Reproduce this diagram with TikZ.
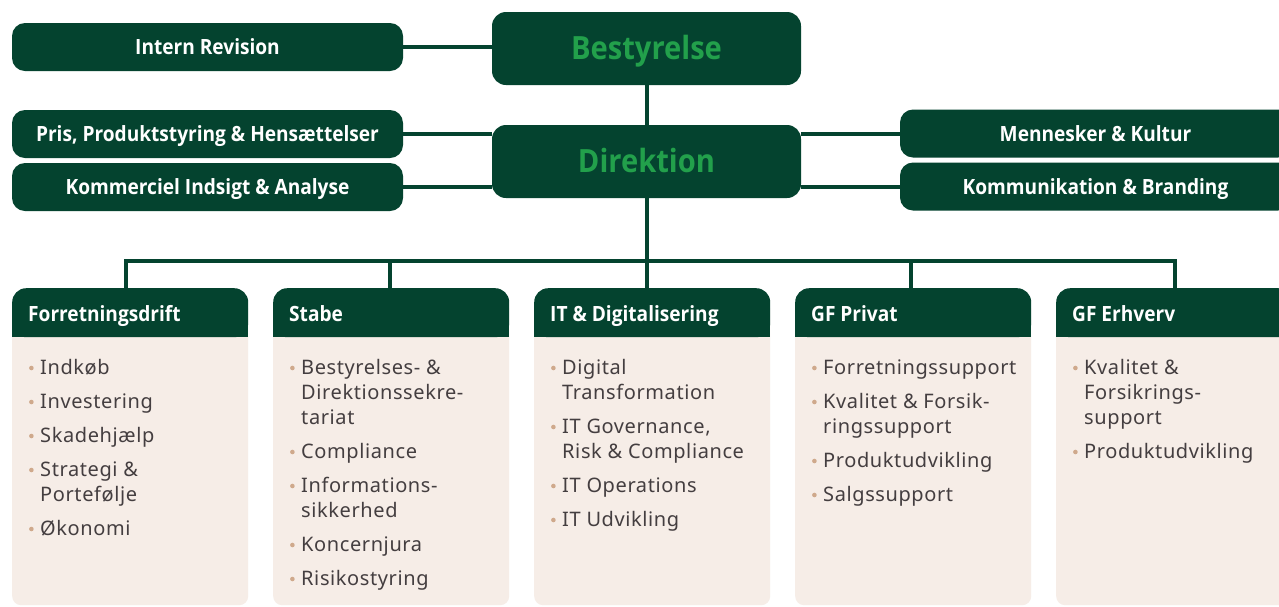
\documentclass[tikz,border=0pt]{standalone}
\usepackage{fontspec}
\setmainfont{Noto Sans}
\newfontfamily\hdfont[FakeStretch=0.91]{Open Sans}
\newfontfamily\listfont[LetterSpace=3]{Noto Sans}
\definecolor{dkgreen}{HTML}{04432F}
\definecolor{ltgreen}{HTML}{22A04B}
\definecolor{beige}{HTML}{F6EDE7}
\definecolor{txtgray}{HTML}{443E40}
\definecolor{bulc}{HTML}{CFA98C}
\pgfdeclarelayer{bg}
\pgfsetlayers{bg,main}
% list helpers: bullet line and continuation line
\newsavebox\bulletbox
\sbox\bulletbox{\begin{tikzpicture}[x=1pt,y=1pt,baseline=0pt]
  \path (0,0) rectangle (12,1);
  \fill[bulc] (3.2,6) circle (2.3pt);
\end{tikzpicture}}
\newcommand\bul{\usebox\bulletbox}
\newcommand\cont{\hspace*{12pt}}
\newcommand\gap{\\[9pt]}
\tikzset{
  conn/.style={draw=dkgreen, line width=4pt},
  topbox/.style={rectangle, rounded corners=13pt, fill=dkgreen, text=white,
    font=\hdfont\bfseries\fontsize{21}{25}\selectfont,
    text height=15pt, text depth=0pt,
    minimum width=391pt, minimum height=48pt, inner sep=0pt},
  bigbox/.style={rectangle, rounded corners=14pt, fill=dkgreen, text=ltgreen,
    font=\hdfont\bfseries\fontsize{32}{36}\selectfont,
    text height=22.8pt, text depth=0pt,
    minimum width=309pt, minimum height=73pt, inner sep=0pt},
  hdbox/.style={rectangle, rounded corners=14pt, fill=dkgreen, anchor=north west,
    minimum width=236pt, minimum height=49pt, inner sep=0pt},
  bodybox/.style={rectangle, rounded corners=9pt, fill=beige, anchor=north west,
    minimum width=236pt, minimum height=305pt, inner sep=0pt},
  hdtext/.style={anchor=base west, inner sep=0pt, text=white,
    font=\hdfont\bfseries\fontsize{21}{25}\selectfont},
  listbox/.style={anchor=base west, inner sep=0pt, text=txtgray}
}
\newcommand\itemlist[1]{\parbox[t]{225pt}{\listfont\fontsize{20}{25}\selectfont\raggedright #1}}

\begin{document}
\begin{tikzpicture}[x=1pt,y=-1pt]
\useasboundingbox (0,0) rectangle (1279,606);
\clip (0,0) rectangle (1279,606);

% management boxes
\node[bigbox] (best) at (646.5,48.5) {Bestyrelse};
\node[bigbox] (dir) at (646.5,161.5) {Direktion};
\node[topbox] (intrev) at (207.5,47) {Intern Revision};
\node[topbox] (pris) at (207.5,134) {Pris, Produktstyring \& Hensættelser};
\node[topbox] (komm) at (207.5,187) {Kommerciel Indsigt \& Analyse};
\node[topbox] (menn) at (1095.5,133.5) {Mennesker \& Kultur};
\node[topbox] (kommu) at (1095.5,186.5) {Kommunikation \& Branding};

% business area columns
\foreach \i/\hd in {1/Forretningsdrift, 2/Stabe, 3/IT \& Digitalisering, 4/GF Privat, 5/GF Erhverv}{
  \pgfmathsetmacro\xl{12+261*(\i-1)}
  \node[bodybox] (b\i) at (\xl,300) {};
  \node[hdbox] (h\i) at (\xl,288) {};
  \fill[dkgreen] (\xl,312) rectangle ++(236,25);
  \node[hdtext] (t\i) at (\xl+16,321) {\hd};
}

\node[listbox] (l1) at (28,374) {\itemlist{%
\bul Indkøb\gap
\bul Investering\gap
\bul Skadehjælp\gap
\bul Strategi \&\\
\cont Portefølje\gap
\bul Økonomi}};

\node[listbox] (l2) at (289,374) {\itemlist{%
\bul Bestyrelses- \&\\
\cont Direktionssekre-\\
\cont tariat\gap
\bul Compliance\gap
\bul Informations-\\
\cont sikkerhed\gap
\bul Koncernjura\gap
\bul Risikostyring}};

\node[listbox] (l3) at (550,374) {\itemlist{%
\bul Digital\\
\cont Transformation\gap
\bul IT Governance,\\
\cont Risk \& Compliance\gap
\bul IT Operations\gap
\bul IT Udvikling}};

\node[listbox] (l4) at (811,374) {\itemlist{%
\bul Forretningssupport\gap
\bul Kvalitet \& Forsik-\\
\cont ringssupport\gap
\bul Produktudvikling\gap
\bul Salgssupport}};

\node[listbox] (l5) at (1072,374) {\itemlist{%
\bul Kvalitet \&\\
\cont Forsikrings-\\
\cont support\gap
\bul Produktudvikling}};

% drop points above the column headers
\coordinate (d1) at (126,288);
\coordinate (d2) at (390,288);
\coordinate (d3) at (646.5,288);
\coordinate (d4) at (911,288);
\coordinate (d5) at (1175,288);
\coordinate (bus) at (646.5,261);

\begin{pgfonlayer}{bg}
  \fill[white] (0,0) rectangle (1279,606);
  \draw[conn] (intrev.east) -- (best.west |- intrev.east);
  \draw[conn] (best.south) -- (dir.north);
  \draw[conn] (pris.east) -- (dir.west |- pris.east);
  \draw[conn] (komm.east) -- (dir.west |- komm.east);
  \draw[conn] (menn.west) -- (dir.east |- menn.west);
  \draw[conn] (kommu.west) -- (dir.east |- kommu.west);
  \draw[conn] (dir.south) -- (d3);
  \draw[conn] (d1) |- (d5 |- bus) -- (d5);
  \draw[conn] (d2) -- (d2 |- bus);
  \draw[conn] (d4) -- (d4 |- bus);
\end{pgfonlayer}
\end{tikzpicture}
\end{document}
